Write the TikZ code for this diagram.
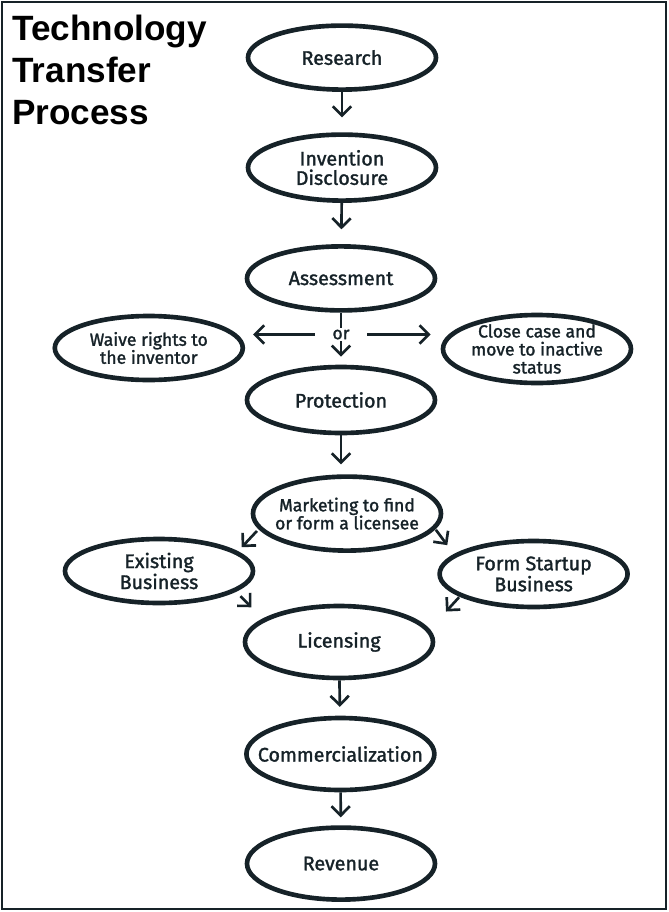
\documentclass[tikz,border=0pt]{standalone}
\usepackage{fontspec}
\usepackage{xcolor}
\usetikzlibrary{shapes.geometric, arrows.meta, positioning}
\newfontfamily\ovalfont{Fira Sans}[FakeBold=1.5]
\newfontfamily\titlefont{Liberation Sans}
\definecolor{ttink}{RGB}{22, 34, 40}
\tikzset{
    oval/.style={
        ellipse, draw=ttink, line width=3.3pt, fill=white, text=ttink,
        minimum width=4.7cm, minimum height=1.6cm, inner xsep=-0.6cm, inner ysep=-0.3cm,
        align=center, font=\ovalfont\fontsize{14}{13.8}\selectfont
    },
    smalloval/.style={oval, font=\ovalfont\fontsize{12.5}{12.8}\selectfont},
    talloval/.style={oval, minimum height=1.8cm},
    arrow/.style={-{Straight Barb[length=2.3mm, width=4.6mm]}, line width=1.9pt, color=ttink},
    headline/.style={font=\titlefont\bfseries\fontsize{25}{29.8}\selectfont, align=left, anchor=north west, inner sep=0pt},
    orlabel/.style={fill=white, inner sep=1pt, text=ttink, font=\ovalfont\fontsize{12.5}{12.5}\selectfont},
}

\begin{document}
\begin{tikzpicture}
    \useasboundingbox (0,0) rectangle (16.725,-22.8);
    \draw[ttink, line width=1.5pt] (0.05,-0.05) rectangle (16.65,-22.72);
    \node[headline] (heading) at (0.3,-0.38) {Technology\\Transfer\\Process};

    % main column
    \node[oval] (research) at (8.55,-1.44) {Research};
    \node[oval, minimum height=1.65cm] (disclosure) at (8.55,-4.19) {Invention\\Disclosure};
    \node[oval] (assess) at (8.525,-6.96) {Assessment};
    \node[smalloval] (waive) at (3.72,-8.7) {Waive rights to\\the inventor};
    \node[smalloval, minimum height=1.7cm] (closecase) at (13.425,-8.725) {Close case and\\move to inactive\\status};
    \node[oval, minimum height=1.65cm] (protect) at (8.525,-10.0) {Protection};
    \node[smalloval, minimum height=1.85cm] (market) at (8.675,-12.84) {Marketing to find\\or form a licensee};
    \node[oval] (existing) at (3.975,-14.275) {Existing\\Business};
    \node[oval, minimum height=1.65cm] (startup) at (13.34,-14.35) {Form Startup\\Business};
    \node[talloval] (licensing) at (8.475,-16.05) {Licensing};
    \node[talloval] (commerce) at (8.51,-18.85) {Commercialization};
    \node[talloval] (revenue) at (8.525,-21.59) {Revenue};

    % arrows
    \draw[arrow, shorten >=0.37cm] (research) -- (disclosure);
    \draw[arrow, shorten >=0.37cm] (disclosure) -- (assess);
    \draw[arrow, shorten >=0.2cm] (assess) -- node[orlabel, pos=0.42] (choice) {or} (protect);
    \draw[arrow, shorten <=0.38cm, shorten >=0.2cm] (choice.west) -- (choice.west -| waive.east);
    \draw[arrow, shorten <=0.38cm, shorten >=0.25cm] (choice.east) -- (choice.east -| closecase.west);
    \draw[arrow, shorten >=0.25cm] (protect) -- (protect |- market.north);
    \draw[arrow, shorten <=0.06cm, shorten >=0.14cm] (market.190) -- (existing.14);
    \draw[arrow, shorten <=0.02cm, shorten >=0.28cm] (market.350) -- (startup.166);
    \draw[arrow, shorten <=0.16cm, shorten >=0.4cm] (existing.345) -- (licensing.163);
    \draw[arrow, shorten <=0.02cm, shorten >=0.6cm] (startup.197) -- (licensing.8);
    \draw[arrow, shorten >=0.22cm] (licensing) -- (commerce);
    \draw[arrow, shorten >=0.2cm] (commerce) -- (revenue);
\end{tikzpicture}
\end{document}
